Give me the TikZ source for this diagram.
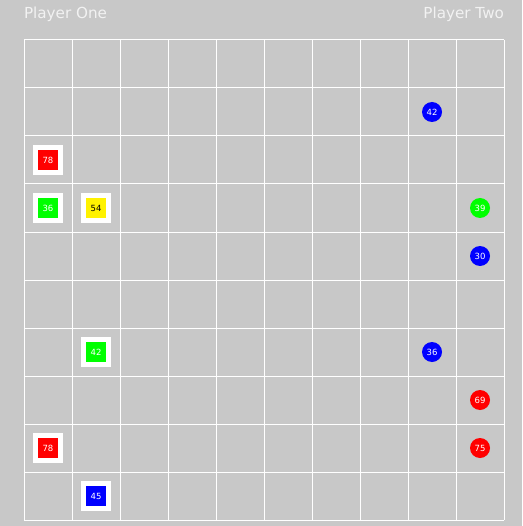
\documentclass[tikz,border=0pt]{standalone}
\usepackage{fontspec}
\setmainfont{DejaVu Sans}
\definecolor{boardgrey}{HTML}{C8C8C8}
\definecolor{titlegrey}{HTML}{F2F2F2}
\begin{document}
\begin{tikzpicture}[
    x=1pt, y=-1pt,
    every node/.style={font=\fontsize{8.5}{10}\selectfont, inner sep=0pt, outer sep=0pt},
    title/.style={font=\fontsize{15.2}{17}\selectfont, text=titlegrey},
    gridline/.style={draw=white, line width=1pt},
    pad/.style={rectangle, fill=white, minimum size=30pt},
    piece/.style={rectangle, minimum size=19.5pt},
    token/.style={circle, minimum size=20pt, text=white}
]
% fondo e bordi
\fill[boardgrey] (0,0) rectangle (522,526);
\node[title, anchor=base west] (one) at (24,18.5) {Player One};
\node[title, anchor=base east] (two) at (504,18.5) {Player Two};
% griglia 10x10, celle da 48
\foreach \i in {0,...,10} {
    \draw[gridline] (24+48*\i,40) -- (24+48*\i,520);
    \draw[gridline] (24,40+48*\i) -- (504,40+48*\i);
}
% pezzi del primo giocatore (colonna, riga, colore, testo)
\foreach \c/\r/\col/\txt/\v [count=\k] in {
    0/2/red/white/78, 0/3/green/white/36, 1/3/yellow/black/54,
    1/6/green/white/42, 0/8/red/white/78, 1/9/blue/white/45} {
    \node[pad] (pad\k) at (48+48*\c,64+48*\r) {};
    \node[piece, fill=\col, text=\txt] (sq\k) at (pad\k) {\v};
}
% pedine del secondo giocatore
\foreach \c/\r/\col/\v [count=\k] in {
    8/1/blue/42, 9/3/green/39, 9/4/blue/30,
    8/6/blue/36, 9/7/red/69, 9/8/red/75} {
    \node[token, fill=\col] (tok\k) at (48+48*\c,64+48*\r) {\v};
}
\end{tikzpicture}
\end{document}
